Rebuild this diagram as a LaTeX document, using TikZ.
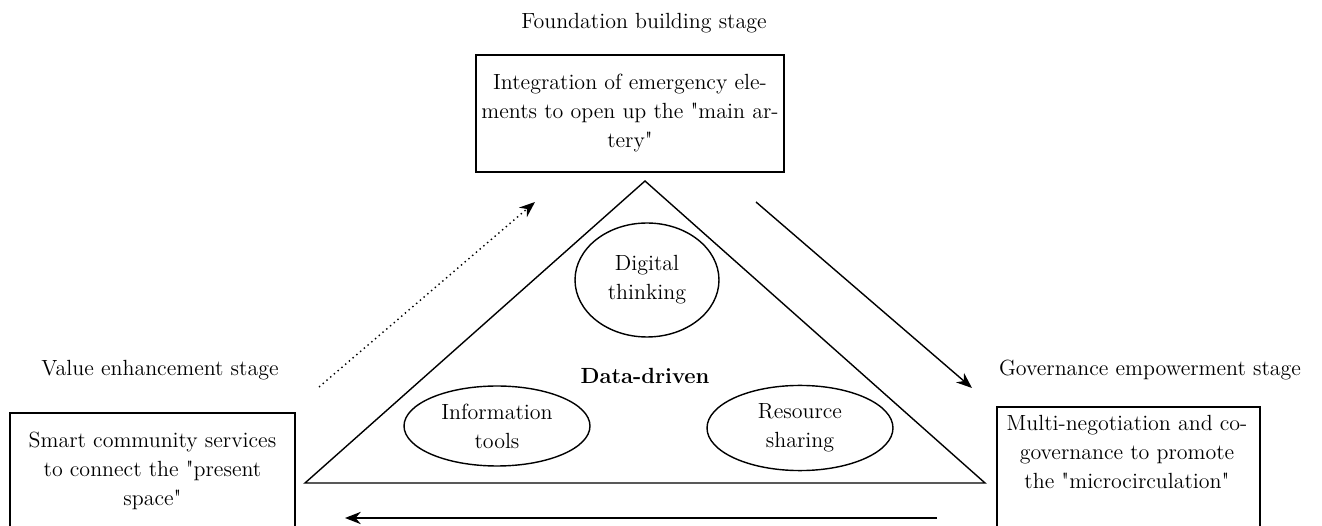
\documentclass[tikz,border=0pt]{standalone}
\usepackage{fontspec}
\usetikzlibrary{shapes.geometric,arrows.meta}

\newcommand{\stagefont}{\fontsize{12.5}{16.5}\selectfont}

\begin{document}
\begin{tikzpicture}[x=0.02cm, y=-0.02cm,
    stagebox/.style={draw, line width=1.1pt, align=center, font=\stagefont},
    boxtext/.style={align=center, font=\stagefont},
    stagelabel/.style={font=\stagefont},
    element/.style={draw, ellipse, line width=0.8pt, align=center, font=\stagefont},
    flow/.style={line width=0.8pt, -{Stealth[length=9pt,width=7pt]}}]
    \useasboundingbox (0,0) rectangle (1322,526);

    % The three stage labels
    \node[stagelabel] (lfound) at (644,23) {Foundation building stage};
    \node[stagelabel] (lvalue) at (160,370) {Value enhancement stage};
    \node[stagelabel] (lgov) at (1150,370) {Governance empowerment stage};

    % The stage boxes
    \node[stagebox, minimum width=5.88cm, minimum height=2.34cm] (found) at (630,113.5)
        {Integration of emergency ele-\\ments to open up the \textquotedbl main ar-\\tery\textquotedbl};
    \node[stagebox, minimum width=5.7cm, minimum height=2.32cm] (smart) at (152.5,471)
        {Smart community services\\to connect the \textquotedbl present\\space\textquotedbl};
    \node[draw, line width=1.1pt, anchor=north, minimum width=5.26cm, minimum height=3.2cm] (gov) at (1128.5,406) {};
    \node[boxtext] (govtext) at (1127,452)
        {Multi-negotiation and co-\\governance to promote\\the \textquotedbl microcirculation\textquotedbl};

    % The triangle
    \coordinate (apex) at (645,181);
    \coordinate (bl) at (305,483);
    \coordinate (br) at (985,483);
    \draw[line width=0.8pt] (apex) -- (br) -- (bl) -- cycle;

    % Elements inside the triangle
    \node[element, minimum width=2.88cm, minimum height=2.28cm] (digital) at (647,280) {Digital\\thinking};
    \node[element, minimum width=3.72cm, minimum height=1.6cm] (info) at (497,426) {Information\\tools};
    \node[element, minimum width=3.72cm, minimum height=1.6cm] (res) at (800,428) {Resource\\sharing};
    \node[font=\stagefont\bfseries] (data) at (645,376) {Data-driven};

    % Arrows between the stages
    \coordinate (a1) at (756,202);
    \coordinate (a2) at (972,388);
    \coordinate (b1) at (937,518);
    \coordinate (b2) at (345,518);
    \coordinate (c1) at (319,387);
    \coordinate (c2) at (535,202);
    \draw[flow] (a1) -- (a2);
    \draw[flow] (b1) -- (b2);
    \draw[flow, dotted] (c1) -- (c2);

\end{tikzpicture}
\end{document}
